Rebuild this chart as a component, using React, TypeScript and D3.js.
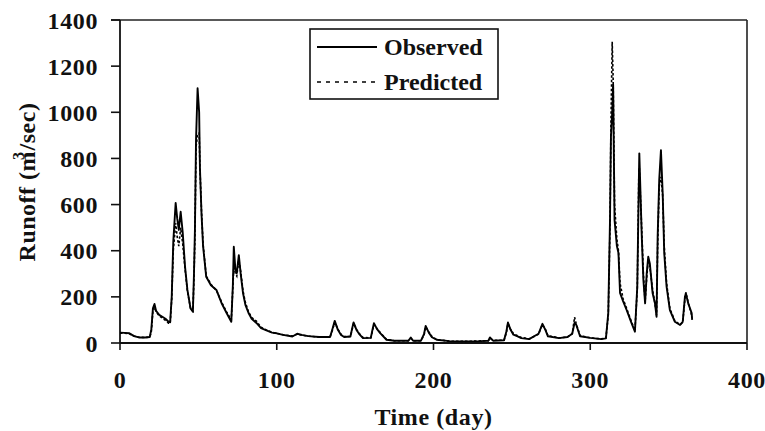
import React from "react";
import * as d3 from "d3";

const days = [
  0, 3, 6, 9, 12, 16, 19, 20, 21, 22, 23, 25, 27, 29, 31, 32, 33, 34, 35.5, 36.5, 37.5, 38.7, 40, 41.5, 43, 45, 46.5,
  47.2, 47.8, 48.5, 49.5, 50.5, 51, 52, 53, 55, 58, 61.5, 65, 68, 71, 72, 72.6, 73.6, 74.5, 75.8, 77, 78.5, 80, 82, 84,
  87, 90, 93, 97, 100, 104, 110, 113, 116, 120, 127, 134, 135.5, 137, 139, 141, 143, 147, 148, 149, 151, 152.5, 155,
  160, 161, 162, 164, 166, 170, 175, 184, 185.5, 187, 192, 194, 195, 197, 199, 202, 210, 220, 230, 235, 236, 238, 245,
  246.5, 247.5, 249, 251, 254, 256, 261, 267, 269.5, 271.5, 273, 280, 285.5, 288.5, 290, 291, 293.5, 300, 307, 310,
  311.5, 312.6, 313.2, 314, 314.6, 315.5, 317, 318, 319, 321, 323.2, 326.4, 328.5, 330, 331, 331.3, 332.8, 333.9, 335,
  336, 337, 338, 339.8, 341.3, 342.3, 343, 344, 345.1, 346.2, 347.2, 348.7, 350.8, 354, 357.3, 359, 360.4, 361, 362.5,
  364.7, 365,
];

const observed = [
  45, 44, 42, 30, 24, 24, 26, 60, 150, 169, 140, 122, 114, 105, 92, 90, 200, 440, 607, 540, 490, 569, 480, 330, 230, 150,
  136, 300, 490, 880, 1104, 1000, 757, 560, 420, 287, 250, 230, 170, 130, 92, 250, 417, 320, 303, 381, 300, 215, 165, 130,
  105, 87, 64, 56, 45, 42, 35, 28, 40, 35, 30, 26, 26, 60, 96, 57, 35, 26, 28, 60, 89, 55, 40, 21, 22, 55, 86, 60, 43, 14,
  10, 10, 24, 10, 10, 40, 74, 45, 25, 14, 8, 7, 8, 10, 24, 10, 12, 50, 89, 60, 36, 28, 21, 17, 40, 83, 55, 29, 21, 26, 40,
  88, 80, 29, 22, 17, 20, 130, 533, 894, 1000, 1120, 533, 420, 390, 217, 180, 143, 85, 49, 244, 700, 822, 476, 273, 172,
  300, 374, 345, 215, 172, 114, 461, 706, 836, 650, 390, 244, 143, 92, 78, 92, 200, 215, 172, 130, 100,
];

const predicted = [
  42, 42, 40, 30, 25, 24, 25, 50, 140, 155, 135, 118, 108, 98, 86, 84, 190, 400, 520, 460, 420, 500, 430, 320, 225, 150,
  138, 280, 460, 850, 900, 910, 760, 570, 430, 290, 255, 228, 175, 135, 100, 240, 330, 300, 290, 360, 310, 225, 175, 135,
  110, 95, 68, 58, 46, 42, 36, 30, 38, 34, 30, 26, 26, 55, 90, 60, 38, 28, 28, 55, 85, 58, 42, 24, 22, 50, 80, 62, 45, 16,
  10, 10, 20, 10, 10, 35, 70, 48, 28, 15, 8, 7, 9, 10, 20, 12, 12, 45, 85, 62, 40, 30, 24, 18, 38, 80, 58, 32, 22, 26, 40,
  112, 85, 32, 22, 18, 22, 120, 500, 950, 1306, 1150, 600, 450, 400, 260, 190, 150, 90, 55, 230, 740, 760, 500, 300, 180,
  280, 360, 330, 230, 170, 120, 420, 680, 720, 640, 420, 260, 150, 95, 80, 90, 190, 220, 175, 120, 110,
];

const xTicks = [0, 100, 200, 300, 400];
const yTicks = [0, 200, 400, 600, 800, 1000, 1200, 1400];
const seriesNames = ["Observed", "Predicted"];
const xTitle = "Time (day)";

const FONT = "'Liberation Serif', 'Times New Roman', serif";

export default function App() {
  const x = d3.scaleLinear().domain([0, 400]).range([120, 747]);
  const y = d3.scaleLinear().domain([0, 1400]).range([343, 20]);

  const obsLine = d3
    .line<number>()
    .x((_, i) => x(days[i]))
    .y((d) => y(d))(observed) as string;
  const predLine = d3
    .line<number>()
    .x((_, i) => x(days[i]))
    .y((d) => y(d))(predicted) as string;

  const x0 = x(0);
  const x1 = x(400);
  const y0 = y(0);
  const y1 = y(1400);

  return (
    <svg
      width={765}
      height={431}
      style={{ position: "absolute", left: 0, top: 0, background: "#fff" }}
      fontFamily={FONT}
      fontWeight="bold"
    >
      <rect x={0} y={0} width={765} height={431} fill="#fff" />
      {/* frame */}
      <line x1={x0 - 9} x2={x1} y1={y1} y2={y1} stroke="#222" strokeWidth={1.6} />
      <line x1={x1} x2={x1} y1={y1} y2={y0} stroke="#222" strokeWidth={1.6} />
      <line x1={x0} x2={x0} y1={y1} y2={y0} stroke="#111" strokeWidth={1.8} />
      <line x1={x0} x2={x1} y1={y0} y2={y0} stroke="#111" strokeWidth={1.8} />

      {/* y ticks */}
      {yTicks.map((t) => (
        <g key={"y" + t}>
          <line x1={x0 - 9} x2={x0} y1={y(t)} y2={y(t)} stroke="#111" strokeWidth={1.6} />
          <text
            x={98}
            y={y(t)}
            dy="0.36em"
            textAnchor="end"
            fontSize={24}
            letterSpacing={0.6}
            fill="#111"
          >
            {t}
          </text>
        </g>
      ))}

      {/* x ticks */}
      {xTicks.map((t) => (
        <g key={"x" + t}>
          <line x1={x(t)} x2={x(t)} y1={y0} y2={y0 + 7} stroke="#111" strokeWidth={1.6} />
          <text
            x={x(t)}
            y={388}
            textAnchor="middle"
            fontSize={24}
            letterSpacing={0.6}
            fill="#111"
          >
            {t}
          </text>
        </g>
      ))}

      {/* series */}
      <path d={obsLine} fill="none" stroke="#000" strokeWidth={1.9} strokeLinejoin="round" />
      <path
        d={predLine}
        fill="none"
        stroke="#000"
        strokeWidth={1.6}
        strokeDasharray="2.5,2"
      />

      {/* legend */}
      <rect x={310} y={29} width={188} height={70} fill="#fff" stroke="#111" strokeWidth={1.6} />
      <line x1={317} x2={377} y1={47} y2={47} stroke="#000" strokeWidth={1.8} />
      <text x={384} y={55} fontSize={24} fill="#111">
        {seriesNames[0]}
      </text>
      <line x1={317} x2={377} y1={82} y2={82} stroke="#000" strokeWidth={1.6} strokeDasharray="4,5" />
      <text x={384} y={90} fontSize={24} fill="#111">
        {seriesNames[1]}
      </text>

      {/* axis titles */}
      <text x={(x0 + x1) / 2} y={425} textAnchor="middle" fontSize={24} letterSpacing={0.6} fill="#111">
        {xTitle}
      </text>
      <text
        transform="translate(35,182) rotate(-90)"
        textAnchor="middle"
        fontSize={24}
        letterSpacing={0.5}
        fill="#111"
      >
        Runoff (m
        <tspan fontSize={16} dx={-9} dy={-11}>
          3
        </tspan>
        <tspan dy={11} dx={1}>
          /sec)
        </tspan>
      </text>
    </svg>
  );
}
